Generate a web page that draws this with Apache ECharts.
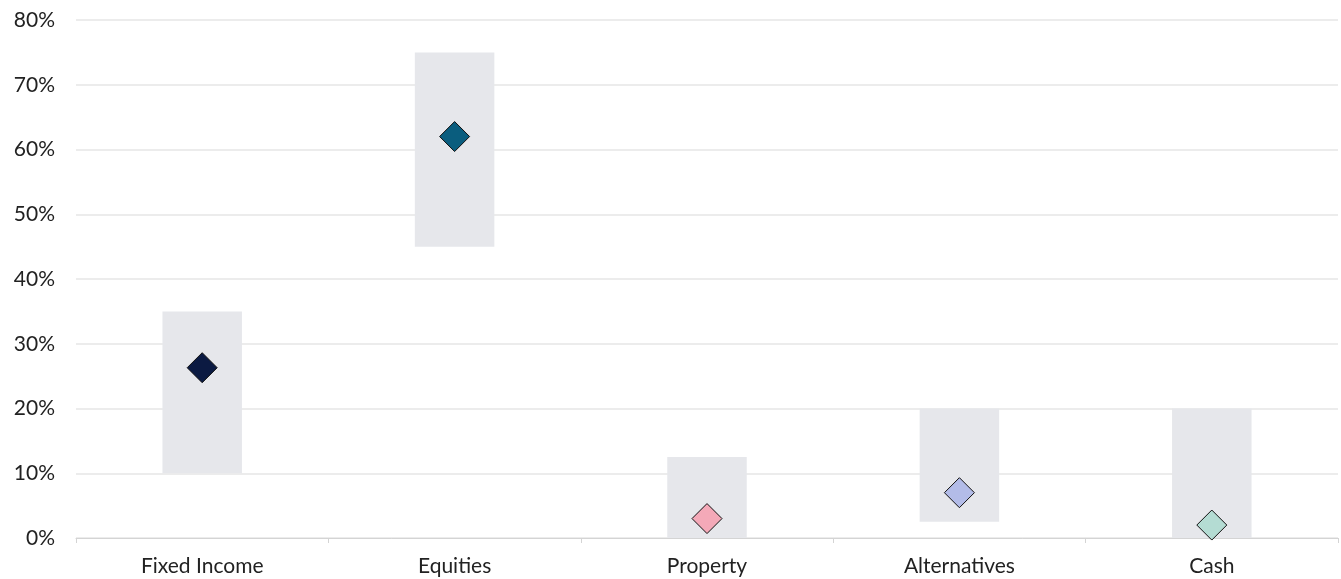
<!DOCTYPE html>
<html>
<head>
<meta charset="utf-8">
<script src="https://cdn.jsdelivr.net/npm/echarts@6/dist/echarts.min.js"></script>
<style>
  html, body { margin: 0; padding: 0; background: #ffffff; }
  #chart { width: 1341px; height: 579px; }
</style>
</head>
<body>
<div id="chart"></div>
<script>
// Asset classes and their allowed allocation ranges (%), with the current weight
const categories = ['Fixed Income', 'Equities', 'Property', 'Alternatives', 'Cash'];
const rangeLow = [10, 45, 0, 2.5, 0];
const rangeHigh = [35, 75, 12.5, 20, 20];
const currentWeight = [26.3, 62, 3, 7, 2];
const markerColors = ['#0b1a42', '#0a5d7e', '#f4a9b8', '#b3bce8', '#b4dcd3'];
const yTicks = [0, 10, 20, 30, 40, 50, 60, 70, 80];

const FONT = 'Lato, "Noto Sans", sans-serif';

const chart = echarts.init(document.getElementById('chart'), null, { renderer: 'canvas' });

chart.setOption({
  animation: false,
  backgroundColor: '#ffffff',
  grid: { left: 76, right: 3, top: 20, bottom: 41, containLabel: false },
  xAxis: {
    type: 'category',
    data: categories,
    boundaryGap: true,
    axisLine: { lineStyle: { color: '#d4d4d4', width: 1 } },
    axisTick: { show: true, length: 5, lineStyle: { color: '#d4d4d4' } },
    axisLabel: { color: '#222222', fontFamily: FONT, fontSize: 21, margin: 18 },
    splitLine: { show: false }
  },
  yAxis: {
    type: 'value',
    min: yTicks[0],
    max: yTicks[yTicks.length - 1],
    interval: 10,
    axisLine: { show: false },
    axisTick: { show: false },
    axisLabel: {
      color: '#222222', fontFamily: FONT, fontSize: 21, margin: 21,
      formatter: v => v + '%'
    },
    splitLine: { lineStyle: { color: '#e6e6e6', width: 1.5 } }
  },
  series: [
    {
      name: 'base',
      type: 'bar',
      stack: 'range',
      data: rangeLow,
      itemStyle: { color: 'transparent' },
      barWidth: '31.5%',
      silent: true
    },
    {
      name: 'Range',
      type: 'bar',
      stack: 'range',
      data: rangeHigh.map((h, i) => h - rangeLow[i]),
      itemStyle: { color: '#e6e7eb' },
      barWidth: '31.5%',
      z: 2
    },
    {
      name: 'Current',
      type: 'scatter',
      symbol: 'diamond',
      symbolSize: 30,
      z: 5,
      data: currentWeight.map((v, i) => ({
        value: v,
        itemStyle: { color: markerColors[i], borderColor: '#111111', borderWidth: 1, opacity: 1 }
      }))
    }
  ]
});
</script>
</body>
</html>
